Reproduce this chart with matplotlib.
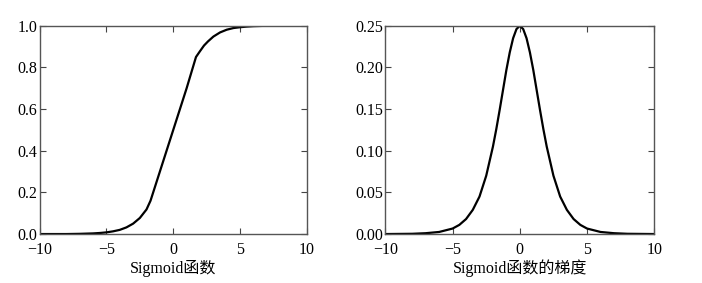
import matplotlib
matplotlib.use("Agg")
import matplotlib.pyplot as plt

plt.rcParams['font.family'] = ['Liberation Serif', 'Noto Sans CJK SC']
plt.rcParams['axes.unicode_minus'] = True

# sigmoid curve
sig_x = [-10, -8, -7, -6, -5.5, -5, -4.5, -4, -3.5, -3, -2.5, -2, -1.7, -1, -0.5, 0, 0.5, 1, 1.7,
         2, 2.3, 2.6, 3, 3.5, 4, 4.5, 5, 5.5, 6, 7]
sig_y = [0.0, 0.0, 0.001, 0.003, 0.005, 0.008, 0.013, 0.02, 0.032, 0.05, 0.077, 0.118, 0.16, 0.30,
         0.40, 0.50, 0.60, 0.70, 0.85, 0.878, 0.905, 0.925, 0.948, 0.968, 0.981, 0.989, 0.993,
         0.996, 0.998, 1.0]

# gradient of sigmoid
grad_x = [-10, -8, -7, -6, -5, -4.5, -4, -3.5, -3, -2.5, -2, -1.75, -1.5, -1.25, -1, -0.75, -0.5, -0.25, 0,
          0.25, 0.5, 0.75, 1, 1.25, 1.5, 1.75, 2, 2.5, 3, 3.5, 4, 4.5, 5, 6, 7, 8, 10]
grad_y = [0.0, 0.0003, 0.001, 0.0025, 0.0066, 0.011, 0.018, 0.029, 0.045, 0.070, 0.105, 0.126, 0.149,
          0.173, 0.197, 0.218, 0.235, 0.246, 0.25,
          0.246, 0.235, 0.218, 0.197, 0.173, 0.149, 0.126, 0.105, 0.070, 0.045, 0.029, 0.018, 0.011,
          0.0066, 0.0025, 0.001, 0.0003, 0.0]

x_ticks = [-10, -5, 0, 5, 10]
sig_yticks = [0.0, 0.2, 0.4, 0.6, 0.8, 1.0]
grad_yticks = [0.00, 0.05, 0.10, 0.15, 0.20, 0.25]
labels = ["Sigmoid函数", "Sigmoid函数的梯度"]

fig = plt.figure(figsize=(7.02, 2.83), dpi=100)
ax1 = fig.add_axes([0.0563, 0.173, 0.381, 0.736])
ax2 = fig.add_axes([0.549, 0.173, 0.383, 0.736])


def style(ax, yticks, fmt, label):
    ax.set_xlim(-10, 10)
    ax.set_xticks(x_ticks)
    ax.set_yticks(yticks)
    ax.set_yticklabels([fmt.format(v) for v in yticks])
    ax.set_ylim(yticks[0], yticks[-1])
    ax.tick_params(direction='in', top=True, right=True, length=4, width=0.8,
                   color='#444444', labelsize=11.5)
    ax.tick_params(axis='x', pad=6)
    ax.tick_params(axis='y', pad=1.5)
    for s in ax.spines.values():
        s.set_color('#555555')
        s.set_linewidth(1.0)
    ax.set_xlabel(label, fontsize=11.5, labelpad=1)


ax1.plot(sig_x, sig_y, color='black', linewidth=1.6)
style(ax1, sig_yticks, "{:.1f}", labels[0])

ax2.plot(grad_x, grad_y, color='black', linewidth=1.6)
style(ax2, grad_yticks, "{:.2f}", labels[1])

plt.savefig("out.png", dpi=100)
